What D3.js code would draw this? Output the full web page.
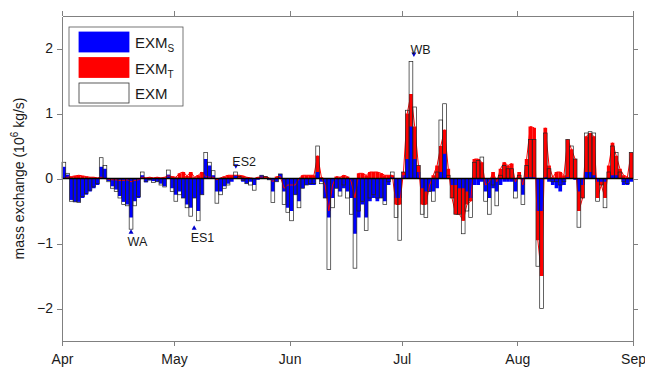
<!DOCTYPE html>
<html>
<head>
<meta charset="utf-8">
<script src="https://cdn.jsdelivr.net/npm/d3@7"></script>
<style>
  body { margin: 0; background: #fff; }
  svg { font-family: "Liberation Sans", Arial, Helvetica, sans-serif; }
  .axis path, .axis line { stroke: #808080; shape-rendering: crispEdges; }
  .axis text { font-size: 14px; fill: #1a1a1a; font-family: "Liberation Sans", Arial, sans-serif; }
</style>
</head>
<body>
<div id="chart"></div>
<script>
// daily values, Apr 1 .. Aug 31 (153 days)
var startDate = new Date(2010, 3, 1);
var endDate = new Date(2010, 8, 1);
var monthLabels = ["Apr", "May", "Jun", "Jul", "Aug", "Sep"];
var yTickValues = [-2, -1, 0, 1, 2];

var exmS = [
  0.18, 0.06, -0.33, -0.36, -0.36, -0.30, -0.25, -0.20, -0.15, -0.10,
  0.18, 0.15, -0.04, -0.12, -0.17, -0.27, -0.36, -0.40, -0.60, -0.35,
  -0.30, 0.05, -0.06, -0.03, -0.04, -0.05, -0.08, -0.12, 0.06, -0.15,
  -0.25, -0.20, -0.30, -0.40, -0.45, -0.30, -0.50, -0.25, 0.30, 0.20,
  0.05, -0.20, -0.20, -0.12, -0.08, -0.05, 0.05, 0.00, -0.05, -0.08,
  -0.05, -0.10, -0.02, 0.05, 0.00, -0.02, -0.20, -0.05, 0.07, -0.20,
  -0.45, -0.50, -0.25, -0.35, -0.15, -0.10, -0.10, -0.10, 0.10, -0.05,
  -0.30, -0.60, -0.30, -0.15, -0.20, -0.15, -0.20, -0.30, -0.85, -0.60,
  -0.40, -0.60, -0.35, -0.30, -0.35, -0.30, -0.35, -0.10, 0.02, -0.30,
  -0.30, 0.05, 0.30, 0.80, 0.30, 0.10, -0.15, -0.20, -0.20, -0.20,
  -0.15, 0.10, 0.38, 0.00, -0.10, -0.10, -0.15, -0.15, -0.20, -0.30,
  -0.10, -0.10, -0.05, -0.20, -0.30, -0.15, -0.20, -0.10, -0.05, -0.05,
  -0.05, -0.20, 0.00, -0.25, 0.02, 0.02, 0.02, -0.50, -0.50, 0.02,
  -0.05, -0.10, -0.15, -0.20, -0.10, 0.02, 0.00, -0.02, -0.20, -0.10,
  0.10, 0.10, 0.05, -0.05, -0.05, -0.05, 0.00, 0.05, 0.05, 0.00,
  -0.10, -0.10, -0.05
];

var exmT = [
  0.00, 0.02, 0.03, 0.04, 0.05, 0.04, 0.03, 0.02, 0.02, 0.01,
  0.02, 0.00, -0.01, -0.02, -0.02, -0.03, -0.03, -0.02, -0.05, -0.03,
  -0.02, 0.02, 0.01, 0.02, 0.01, 0.02, 0.01, 0.02, 0.04, 0.03,
  0.02, 0.08, 0.10, 0.04, 0.10, 0.02, 0.05, 0.10, 0.03, 0.02,
  0.02, -0.02, 0.01, 0.03, 0.05, 0.05, 0.05, 0.05, 0.04, 0.02,
  0.01, 0.00, 0.02, 0.02, 0.03, 0.01, -0.05, 0.03, 0.03, -0.15,
  -0.10, -0.10, -0.10, 0.00, 0.05, 0.05, 0.05, 0.05, 0.35, 0.02,
  -0.10, -0.50, -0.10, 0.03, 0.02, 0.05, 0.03, -0.05, -0.30, 0.08,
  0.08, 0.05, 0.10, 0.10, 0.10, 0.08, 0.05, 0.05, 0.05, -0.40,
  -0.40, 0.10, 1.00, 1.30, 0.80, 0.20, -0.40, -0.40, -0.10, 0.05,
  0.20, 0.50, 0.75, 0.15, -0.30, -0.55, -0.55, -0.65, -0.40, -0.35,
  0.30, 0.30, 0.25, -0.10, -0.05, 0.10, -0.05, 0.15, 0.25, 0.20,
  0.23, -0.05, 0.10, -0.10, 0.30, 0.80, 0.78, -0.95, -1.50, 0.78,
  0.20, 0.02, 0.10, 0.10, 0.05, 0.60, 0.45, 0.30, -0.50, -0.30,
  0.65, 0.70, 0.65, -0.30, -0.10, -0.30, 0.20, 0.55, 0.35, 0.15,
  0.05, 0.02, 0.40
];

var exmTotal = [
  0.25, 0.08, -0.35, -0.36, -0.37, -0.28, -0.23, -0.18, -0.13, -0.08,
  0.32, 0.20, -0.05, -0.15, -0.20, -0.30, -0.40, -0.42, -0.78, -0.42,
  -0.28, 0.10, -0.05, -0.02, -0.06, -0.05, -0.10, -0.13, 0.13, -0.20,
  -0.35, -0.25, -0.30, -0.45, -0.58, -0.30, -0.65, -0.25, 0.40, 0.25,
  0.12, -0.38, -0.25, -0.15, -0.10, 0.00, 0.10, 0.03, -0.03, -0.08,
  -0.10, -0.18, 0.00, 0.05, 0.03, -0.02, -0.37, -0.05, 0.07, -0.40,
  -0.52, -0.65, -0.25, -0.45, -0.15, -0.10, -0.08, -0.08, 0.50, -0.08,
  -0.30, -1.40, -0.45, -0.15, -0.27, -0.10, -0.30, -0.55, -1.38, -0.50,
  -0.35, -0.80, -0.30, -0.25, -0.30, -0.30, -0.40, -0.05, 0.10, -0.60,
  -0.95, 0.10, 1.05, 1.80, 1.10, 0.20, -0.55, -0.60, -0.20, -0.35,
  0.10, 0.90, 1.15, 0.05, -0.30, -0.55, -0.55, -0.85, -0.50, -0.60,
  0.25, 0.28, 0.33, -0.35, -0.55, -0.10, -0.42, 0.05, 0.20, 0.15,
  0.15, -0.30, 0.05, -0.40, 0.20, 0.60, 0.60, -1.35, -2.00, 0.70,
  0.15, -0.05, -0.05, -0.10, -0.05, 0.60, 0.50, 0.30, -0.75, -0.30,
  0.70, 0.72, 0.70, -0.35, -0.10, -0.45, 0.10, 0.50, 0.40, 0.10,
  -0.05, -0.08, 0.40
];

// event markers: day offset from Apr 1 and the value the arrow tip points at
var eventNames = ["WA", "ES1", "ES2", "WB"];
var eventDays = [18.5, 35.4, 46.6, 94.3];
var eventValues = [-0.78, -0.72, 0.15, 1.87];

var width = 645, height = 369;
var margins = { top: 16, right: 12, bottom: 28, left: 62 };
var chartWidth = width - margins.left - margins.right;
var chartHeight = height - margins.top - margins.bottom;

var days = exmS.map(function(v, i) {
  return {
    date: d3.timeDay.offset(startDate, i),
    s: v,
    t: exmT[i],
    total: exmTotal[i]
  };
});

var xScale = d3.scaleTime().domain([startDate, endDate]).range([0, chartWidth]);
var yScale = d3.scaleLinear().domain([-2.5, 2.5]).range([chartHeight, 0]);

var svg = d3.select("#chart").append("svg")
  .attr("width", width)
  .attr("height", height);

var chart = svg.append("g")
  .attr("transform", "translate(" + margins.left + "," + margins.top + ")");

var barX = d => xScale(d.date);
var barW = d => xScale(d3.timeDay.offset(d.date, 1)) - xScale(d.date);
var barY = v => Math.min(yScale(v), yScale(0));
var barH = v => Math.abs(yScale(v) - yScale(0));

// EXM white bars underneath
chart.append("g").selectAll("rect")
  .data(days).enter().append("rect")
  .attr("x", barX).attr("width", barW)
  .attr("y", d => barY(d.total)).attr("height", d => barH(d.total))
  .attr("fill", "#fff");

// EXM_T red bars
chart.append("g").selectAll("rect")
  .data(days).enter().append("rect")
  .attr("x", barX).attr("width", barW)
  .attr("y", d => barY(d.t)).attr("height", d => barH(d.t))
  .attr("fill", "#ff0000");

// EXM_S blue bars
chart.append("g").selectAll("rect")
  .data(days).enter().append("rect")
  .attr("x", barX).attr("width", barW)
  .attr("y", d => barY(d.s)).attr("height", d => barH(d.s))
  .attr("fill", "#0000ff");

// thin red line through EXM_T
var tLine = d3.line()
  .x(d => xScale(d.date) + barW(d) / 2)
  .y(d => yScale(d.t));

chart.append("path")
  .datum(days)
  .attr("d", tLine)
  .attr("fill", "none")
  .attr("stroke", "#ff0000")
  .attr("stroke-width", 1);

// EXM outlines on top
chart.append("g").selectAll("rect")
  .data(days).enter().append("rect")
  .attr("x", barX).attr("width", barW)
  .attr("y", d => barY(d.total)).attr("height", d => barH(d.total))
  .attr("fill", "none")
  .attr("stroke", "#222")
  .attr("stroke-width", 0.7);

// zero line
chart.append("line")
  .attr("x1", 0).attr("x2", chartWidth)
  .attr("y1", yScale(0)).attr("y2", yScale(0))
  .attr("stroke", "#000")
  .attr("stroke-width", 1.5);

// axes, box with outward ticks
var monthTicks = d3.timeMonth.range(startDate, d3.timeDay.offset(endDate, 1));

var xAxis = d3.axisBottom(xScale)
  .tickValues(monthTicks)
  .tickSize(5).tickSizeOuter(0).tickPadding(5)
  .tickFormat((d, i) => monthLabels[i]);

var yAxis = d3.axisLeft(yScale)
  .tickValues(yTickValues)
  .tickSize(5).tickSizeOuter(0).tickPadding(4)
  .tickFormat(d3.format("d"));

chart.append("g").attr("class", "x axis")
  .attr("transform", "translate(0," + chartHeight + ")")
  .call(xAxis);

chart.append("g").attr("class", "y axis").call(yAxis);

chart.append("g").attr("class", "axis")
  .call(d3.axisTop(xScale).tickValues(monthTicks).tickSize(5).tickSizeOuter(0).tickFormat(""));

chart.append("g").attr("class", "axis")
  .attr("transform", "translate(" + chartWidth + ",0)")
  .call(d3.axisRight(yScale).tickValues(yTickValues).tickSize(5).tickSizeOuter(0).tickFormat(""));

chart.selectAll(".x.axis text").attr("dy", "0.9em");

// y label
svg.append("text")
  .attr("transform", "translate(24," + (margins.top + chartHeight / 2) + ") rotate(-90)")
  .attr("text-anchor", "middle")
  .attr("font-size", 14)
  .attr("fill", "#1a1a1a")
  .html('mass exchange (10<tspan dy="-6" font-size="10">6</tspan><tspan dy="6"> kg/s)</tspan>');

// event labels with small arrowheads
var events = eventNames.map((n, i) => ({ name: n, day: eventDays[i], value: eventValues[i] }));

var ev = chart.append("g").selectAll("g")
  .data(events).enter().append("g")
  .attr("transform", d => "translate(" + xScale(d3.timeHour.offset(startDate, Math.round(d.day * 24))) + "," + yScale(d.value) + ")");

ev.append("path")
  .attr("d", d => d.value < 0 ? "M0,0 L-2.5,4.5 L2.5,4.5 Z" : "M0,0 L-2.5,-4.5 L2.5,-4.5 Z")
  .attr("fill", "#0000cc");

ev.append("text")
  .attr("x", -3.5)
  .attr("y", d => d.value < 0 ? 17 : -3)
  .attr("font-size", 12.5)
  .attr("fill", "#1a1a1a")
  .text(d => d.name);

// legend
var legendItems = [
  { sub: "S", fill: "#0000ff", stroke: "#0000ff" },
  { sub: "T", fill: "#ff0000", stroke: "#ff0000" },
  { sub: "", fill: "#ffffff", stroke: "#333" }
];

var legend = svg.append("g").attr("transform", "translate(69,27)");
legend.append("rect")
  .attr("width", 114).attr("height", 79)
  .attr("fill", "#fff")
  .attr("stroke", "#555")
  .attr("stroke-width", 0.8);

var li = legend.selectAll(".li")
  .data(legendItems).enter().append("g")
  .attr("transform", (d, i) => "translate(10," + (5 + i * 25.5) + ")");

li.append("rect")
  .attr("width", 50).attr("height", 20)
  .attr("fill", d => d.fill)
  .attr("stroke", d => d.stroke)
  .attr("stroke-width", 0.8);

var lt = li.append("text")
  .attr("x", 56).attr("y", 16)
  .attr("font-size", 15)
  .attr("fill", "#1a1a1a");
lt.append("tspan").text("EXM");
lt.append("tspan").attr("dy", 4).attr("font-size", 10).text(d => d.sub);
</script>
</body>
</html>
